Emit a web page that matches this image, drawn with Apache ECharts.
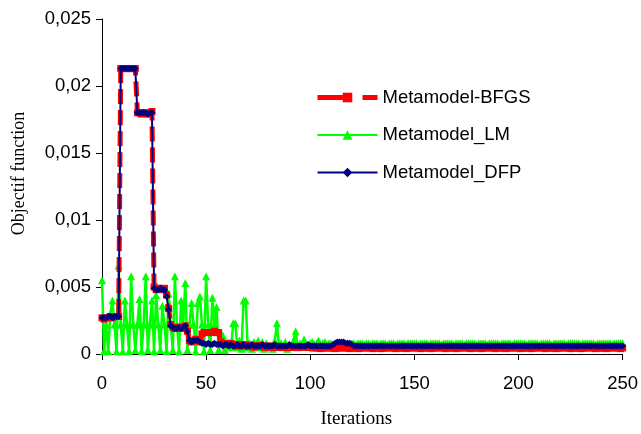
<!DOCTYPE html>
<html>
<head>
<meta charset="utf-8">
<script src="https://cdn.jsdelivr.net/npm/echarts@6/dist/echarts.min.js"></script>
<style>html,body{margin:0;padding:0;background:#fff}#c{width:641px;height:434px}</style>
</head>
<body>
<div id="c"></div>
<script>
var seriesNames = ['Metamodel-BFGS', 'Metamodel_LM', 'Metamodel_DFP'];
var xTicks = [0, 50, 100, 150, 200, 250];
var yTicks = [0, 0.005, 0.01, 0.015, 0.02, 0.025];

// Values per iteration, index = iteration number (0..250)
var bfgs = [
  0.0027,0.0026,0.0027,0.0027,0.0028,0.0027,0.0028,0.0028,0.0028,
  0.0213,0.0213,0.0213,0.0213,0.0213,0.0213,0.0213,0.0213,
  0.0180,0.0180,0.0179,0.0180,0.0180,0.0179,0.0180,0.0181,
  0.0050,0.0048,0.0049,0.0049,0.0048,0.0049,0.0044,0.0034,
  0.0022,0.0020,0.0019,0.0019,0.0020,0.0019,0.0020,0.0021,0.0017,
  0.0010,0.0009,0.0010,0.0011,0.0010,0.0009,
  0.0015,0.0016,0.0016,0.0016,0.0016,0.0016,0.0017,0.0016,0.0016,
  0.0009,0.0008,0.0008,0.0007,0.0007,0.0008,0.0007,0.0006,0.0007,0.0007,
  0.0006,0.0006,0.0007,0.0006,0.0006,0.0006,0.0005,0.0006,0.0006,0.0006,
  0.0006,0.0005,0.0006,0.0005,0.0005,0.0006,0.0005,0.0005,0.0005,0.0005,
  0.0005,0.0005,0.0005,0.0005,0.0005,0.0005,0.0005,0.0005,0.0005,0.0005,
  0.0005,0.0005,0.0005,0.0005,
  0.00045,0.0005,0.00045,0.00045,0.0004,0.00045,0.00045,0.0005,0.00045,0.00045,
  0.00045,0.0004,0.00045,0.00045,0.00045,0.0005,0.00045,0.00045,0.0004,0.00045,
  0.00045,0.00045,0.0004,0.00045,0.00045,0.00045,0.0005,0.00045,0.00045,0.0004,
  0.00045,0.00045,0.00045,0.0004,0.00045,0.00045,0.00045,0.0005,0.00045,0.00045,
  0.0004,0.00045,0.00045,0.00045,0.00045,0.0004,0.00045,0.00045,0.00045,0.0005,
  0.00045,0.00045,0.0004,0.00045,0.00045,0.00045,0.00045,0.0004,0.00045,0.00045,
  0.00045,0.0005,0.00045,0.00045,0.0004,0.00045,0.00045,0.00045,0.00045,0.0004,
  0.00045,0.00045,0.00045,0.0005,0.00045,0.00045,0.0004,0.00045,0.00045,0.00045,
  0.00045,0.0004,0.00045,0.00045,0.00045,0.0005,0.00045,0.00045,0.0004,0.00045,
  0.00045,0.00045,0.00045,0.0004,0.00045,0.00045,0.00045,0.0005,0.00045,0.00045,
  0.0004,0.00045,0.00045,0.00045,0.00045,0.0004,0.00045,0.00045,0.00045,0.0005,
  0.00045,0.00045,0.0004,0.00045,0.00045,0.00045,0.00045,0.0004,0.00045,0.00045,
  0.00045,0.0005,0.00045,0.00045,0.0004,0.00045,0.00045,0.00045,0.00045,0.0004,
  0.00045,0.00045,0.00045,0.0005,0.00045,0.00045,0.0004,0.00045,0.00045,0.00045,
  0.00045,0.0004,0.00045,0.00045,0.00045,0.0005,0.00045,0.00045,0.0004,0.00045
];

var lm = [
  0.0055,0.0002,0.0022,0.0002,0.0030,0.0040,0.0022,0.0002,0.0066,0.0022,
  0.0002,0.0040,0.0022,0.0002,0.0058,0.0022,0.0003,0.0022,0.0041,0.0002,
  0.0022,0.0058,0.0003,0.0022,0.0040,0.0002,0.0044,0.0022,0.0003,0.0036,
  0.0022,0.0002,0.0045,0.0022,0.0003,0.0058,0.0022,0.0002,0.0040,0.0022,
  0.0053,0.0003,0.0022,0.0038,0.0022,0.0002,0.0038,0.0043,0.0022,0.0002,
  0.0058,0.0022,0.0003,0.0042,0.0022,0.0035,0.0003,0.0012,0.0014,0.0003,
  0.0006,0.0008,0.0005,0.0023,0.0023,0.0005,0.0010,0.0004,0.0040,0.0040,
  0.0005,0.0008,0.0004,0.0009,0.0006,0.0010,0.0005,0.0009,0.0004,0.0008,
  0.0005,0.0006,0.0004,0.0010,0.0023,0.0006,0.0008,0.0005,0.0009,0.0004,
  0.0007,0.0006,0.0010,0.0017,0.0005,0.0008,0.0006,0.0011,0.0007,0.0006,
  0.0008,
  0.0009,0.0007,0.0008,0.0010,0.0007,0.0008,0.0009,0.0007,0.0008,0.0008,
  0.0007,0.0008,0.0008,0.0007,0.0008,0.0007,0.0008,0.0008,0.0007,0.0008,
  0.0008,0.0007,0.0008,0.0008,0.0008,0.0007,0.0008,0.0008,0.0007,0.0008,
  0.0008,0.0008,0.0007,0.0008,0.0008,0.0008,0.0007,0.0008,0.0008,0.0008,
  0.0007,0.0008,0.0008,0.0008,0.0008,0.0007,0.0008,0.0008,0.0008,0.0008,
  0.0008,0.0007,0.0008,0.0008,0.0008,0.0008,0.0007,0.0008,0.0008,0.0008,
  0.0008,0.0008,0.0007,0.0008,0.0008,0.0008,0.0008,0.0008,0.0007,0.0008,
  0.0008,0.0008,0.0008,0.0007,0.0008,0.0008,0.0008,0.0008,0.0008,0.0007,
  0.0008,0.0008,0.0008,0.0008,0.0007,0.0008,0.0008,0.0008,0.0008,0.0008,
  0.0007,0.0008,0.0008,0.0008,0.0008,0.0008,0.0007,0.0008,0.0008,0.0008,
  0.0008,0.0008,0.0008,0.0007,0.0008,0.0008,0.0008,0.0008,0.0008,0.0007,
  0.0008,0.0008,0.0008,0.0008,0.0008,0.0007,0.0008,0.0008,0.0008,0.0008,
  0.0008,0.0008,0.0007,0.0008,0.0008,0.0008,0.0008,0.0008,0.0008,0.0007,
  0.0008,0.0008,0.0008,0.0008,0.0008,0.0008,0.0007,0.0008,0.0008,0.0008,
  0.0008,0.0008,0.0008,0.0008,0.0007,0.0008,0.0008,0.0008,0.0008,0.0008
];

var dfp = [
  // 0-8
  0.0027,0.0027,0.0027,0.0028,0.0028,0.0027,0.0028,0.0028,0.0028,
  // 9-16
  0.0213,0.0213,0.0213,0.0213,0.0213,0.0213,0.0213,0.0213,
  // 17-24
  0.0180,0.0180,0.0180,0.0180,0.0180,0.0179,0.0180,0.0180,
  // 25-32
  0.0049,0.0048,0.0048,0.0049,0.0048,0.0048,0.0043,0.0033,
  // 33-41
  0.0021,0.0020,0.0019,0.0019,0.0020,0.0019,0.0020,0.0021,0.0017,
  // 42-47
  0.0010,0.0009,0.0010,0.0010,0.0010,0.0009,
  // 48-56
  0.0008,0.0008,0.0007,0.0008,0.0007,0.0007,0.0008,0.0007,0.0007,
  // 57-111
  0.0007,0.0006,0.0007,0.0007,0.0006,0.0007,0.0006,0.0006,0.0007,0.0006,
  0.0006,0.0007,0.0006,0.0006,0.0006,0.0007,0.0006,0.0006,0.0006,0.0006,
  0.0007,0.0006,0.0006,0.0006,0.0006,0.0006,0.0007,0.0006,0.0006,0.0006,
  0.0006,0.0006,0.0006,0.0007,0.0006,0.0006,0.0006,0.0006,0.0006,0.0006,
  0.0006,0.0006,0.0007,0.0006,0.0006,0.0006,0.0006,0.0006,0.0006,0.0006,
  0.0006,0.0006,0.0006,0.0006,0.0007,
  // 112-120
  0.0008,0.0009,0.0009,0.0009,0.0009,0.0008,0.0008,0.0008,0.0007,
  // 121-250
  0.0006,0.0006,0.0006,0.0006,0.0006,0.0006,0.0006,0.0006,0.0006,0.0006,
  0.0006,0.0006,0.0006,0.0006,0.0006,0.0006,0.0006,0.0006,0.0006,0.0006,
  0.0006,0.0006,0.0006,0.0006,0.0006,0.0006,0.0006,0.0006,0.0006,0.0006,
  0.0006,0.0006,0.0006,0.0006,0.0006,0.0006,0.0006,0.0006,0.0006,0.0006,
  0.0006,0.0006,0.0006,0.0006,0.0006,0.0006,0.0006,0.0006,0.0006,0.0006,
  0.0006,0.0006,0.0006,0.0006,0.0006,0.0006,0.0006,0.0006,0.0006,0.0006,
  0.0006,0.0006,0.0006,0.0006,0.0006,0.0006,0.0006,0.0006,0.0006,0.0006,
  0.0006,0.0006,0.0006,0.0006,0.0006,0.0006,0.0006,0.0006,0.0006,0.0006,
  0.0006,0.0006,0.0006,0.0006,0.0006,0.0006,0.0006,0.0006,0.0006,0.0006,
  0.0006,0.0006,0.0006,0.0006,0.0006,0.0006,0.0006,0.0006,0.0006,0.0006,
  0.0006,0.0006,0.0006,0.0006,0.0006,0.0006,0.0006,0.0006,0.0006,0.0006,
  0.0006,0.0006,0.0006,0.0006,0.0006,0.0006,0.0006,0.0006,0.0006,0.0006,
  0.0006,0.0006,0.0006,0.0006,0.0006,0.0006,0.0006,0.0006,0.0006,0.0006
];

function pairs(arr) { return arr.map(function (v, i) { return [i, v]; }); }

var sans = '"Liberation Sans", Arial, sans-serif';
var serif = '"Liberation Serif", "Times New Roman", serif';

var chart = echarts.init(document.getElementById('c'), null, { renderer: 'canvas' });
chart.setOption({
  animation: false,
  backgroundColor: '#fff',
  grid: { left: 102, right: 18, top: 19, bottom: 80 },
  legend: {
    orient: 'vertical',
    left: 315,
    top: 88,
    padding: 0,
    itemWidth: 60,
    itemHeight: 12,
    itemGap: 18.5,
    data: [
      { name: seriesNames[0], lineStyle: { width: 5, type: [30, 15] } },
      { name: seriesNames[1], lineStyle: { width: 2 } },
      { name: seriesNames[2], lineStyle: { width: 2 } }
    ],
    textStyle: { fontFamily: sans, fontSize: 18.5, color: '#000' }
  },
  xAxis: {
    type: 'value',
    min: xTicks[0],
    max: xTicks[xTicks.length - 1],
    interval: 50,
    name: 'Iterations',
    nameLocation: 'middle',
    nameGap: 56,
    nameTextStyle: { fontFamily: serif, fontSize: 19, color: '#000', verticalAlign: 'top', padding: [0, 12, 0, 0] },
    axisLine: { show: true, lineStyle: { color: '#000', width: 1 } },
    axisTick: { show: true, inside: false, length: 6, lineStyle: { color: '#000' } },
    axisLabel: { margin: 20, fontFamily: sans, fontSize: 18.5, color: '#000' },
    splitLine: { show: false }
  },
  yAxis: {
    type: 'value',
    min: yTicks[0],
    max: yTicks[yTicks.length - 1],
    interval: 0.005,
    name: 'Objectif function',
    nameLocation: 'middle',
    nameGap: 74,
    nameTextStyle: { fontFamily: serif, fontSize: 18, color: '#000', padding: [0, 0, 0, 26] },
    axisLine: { show: true, lineStyle: { color: '#000', width: 1 } },
    axisTick: { show: true, inside: false, length: 6, lineStyle: { color: '#000' } },
    axisLabel: {
      margin: 11, fontFamily: sans, fontSize: 18.5, color: '#000',
      formatter: function (v) { return v === 0 ? '0' : String(+v.toFixed(3)).replace('.', ','); }
    },
    splitLine: { show: false }
  },
  series: [
    {
      name: seriesNames[1], type: 'line', data: pairs(lm),
      symbol: 'triangle', symbolSize: 8, showAllSymbol: true,
      lineStyle: { color: '#00FF00', width: 2.5 },
      itemStyle: { color: '#00FF00' },
      z: 2
    },
    {
      name: seriesNames[0], type: 'line', data: pairs(bfgs),
      symbol: 'rect', symbolSize: 7, showAllSymbol: true,
      lineStyle: { color: '#FF0000', width: 5, type: [15, 6] },
      itemStyle: { color: '#FF0000' },
      z: 3
    },
    {
      name: seriesNames[2], type: 'line', data: pairs(dfp),
      symbol: 'diamond', symbolSize: 7, showAllSymbol: true,
      lineStyle: { color: '#000080', width: 2 },
      itemStyle: { color: '#000080' },
      z: 4
    }
  ]
});
</script>
</body>
</html>
